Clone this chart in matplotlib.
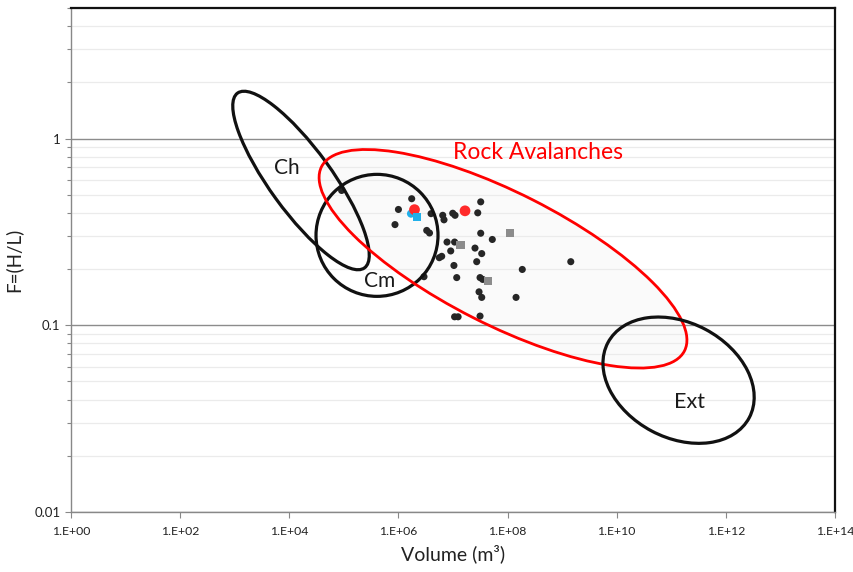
import matplotlib
matplotlib.use('Agg')
import matplotlib.pyplot as plt
from matplotlib.patches import Ellipse
from matplotlib.transforms import ScaledTranslation
from matplotlib.ticker import LogLocator, NullFormatter, FixedLocator, FixedFormatter

plt.rcParams['font.family'] = ['Lato', 'DejaVu Sans']

# data
vol_black = [9.1e4, 1.75e6, 1.0e6, 8.65e5, 3.96e6, 6.48e6, 6.84e6, 9.89e6, 1.09e7,
             3.22e7, 2.84e7, 3.30e6, 3.71e6, 3.22e7, 5.25e7, 7.77e6, 1.07e7, 2.53e7,
             9.08e6, 3.36e7, 5.61e6, 6.21e6, 2.72e7, 1.44e9, 1.04e7, 1.86e8, 2.94e6,
             1.17e7, 3.13e7, 3.50e7, 3.0e7, 3.36e7, 1.43e8, 1.07e7, 1.24e7, 3.13e7]
f_black = [0.527, 0.476, 0.417, 0.346, 0.396, 0.388, 0.367, 0.398, 0.388,
           0.458, 0.400, 0.322, 0.312, 0.311, 0.288, 0.279, 0.279, 0.259,
           0.250, 0.242, 0.230, 0.234, 0.219, 0.219, 0.209, 0.199, 0.182,
           0.180, 0.180, 0.176, 0.151, 0.141, 0.141, 0.111, 0.111, 0.112]

vol_red = [1.97e6, 1.66e7]
f_red = [0.416, 0.410]

vol_cyan_circle = [1.70e6]
f_cyan_circle = [0.396]
vol_cyan_square = [2.22e6]
f_cyan_square = [0.380]

vol_gray = [1.11e8, 1.37e7, 4.44e7]
f_gray = [0.312, 0.269, 0.172]

# outlined domains: name, centre volume, centre F, width/height (inches), angle, colour
zone_names = ['Ch', 'Cm', 'Rock Avalanches', 'Ext']
zone_vol = [1.64e4, 4.05e5, 8.25e7, 1.36e11]
zone_f = [0.596, 0.303, 0.227, 0.0508]
zone_w = [2.16, 1.22, 4.07, 1.60]
zone_h = [0.62, 1.22, 1.32, 1.15]
zone_angle = [-54, 0, -26.9, -28]
zone_color = ['#111111', '#111111', '#ff0000', '#111111']

label_vol = [9.1e3, 4.6e5, 3.6e8, 2.2e11]
label_f = [0.691, 0.172, 0.842, 0.0388]
label_size = [15, 15, 16.5, 15.5]

x_ticks = [1e0, 1e2, 1e4, 1e6, 1e8, 1e10, 1e12, 1e14]
x_tick_labels = ['1.E+00', '1.E+02', '1.E+04', '1.E+06', '1.E+08', '1.E+10', '1.E+12', '1.E+14']
y_ticks = [0.01, 0.1, 1]
y_tick_labels = ['0.01', '0.1', '1']

fig = plt.figure(figsize=(8.54, 5.72), dpi=100)
fig.patch.set_facecolor('white')
ax = fig.add_axes([71 / 854, 60 / 572, 764 / 854, 504 / 572])

ax.set_xscale('log')
ax.set_yscale('log')
ax.set_xlim(1e0, 1e14)
ax.set_ylim(0.01, 5)

# gridlines
ax.yaxis.set_major_locator(FixedLocator(y_ticks))
ax.yaxis.set_major_formatter(FixedFormatter(y_tick_labels))
ax.yaxis.set_minor_locator(LogLocator(base=10, subs=range(2, 10)))
ax.yaxis.set_minor_formatter(NullFormatter())
ax.grid(True, which='major', axis='y', color='#8c8c8c', linewidth=1.0, zorder=0)
ax.grid(True, which='minor', axis='y', color='#ebebeb', linewidth=0.9, zorder=0)
ax.set_axisbelow(True)

ax.xaxis.set_major_locator(FixedLocator(x_ticks))
ax.xaxis.set_major_formatter(FixedFormatter(x_tick_labels))
ax.xaxis.set_minor_locator(FixedLocator([]))

ax.tick_params(axis='both', which='major', labelsize=9.5, colors='#888888',
               labelcolor='#222222', length=4, width=0.8, direction='out')
ax.tick_params(axis='x', labelsize=8.8, pad=6)
ax.tick_params(axis='y', which='minor', colors='#888888', length=3, width=0.8)

for side in ['left', 'bottom']:
    ax.spines[side].set_color('#888888')
    ax.spines[side].set_linewidth(1.0)
for side in ['top', 'right']:
    ax.spines[side].set_color('#111111')
    ax.spines[side].set_linewidth(1.6)

# zones
for i, name in enumerate(zone_names):
    trans = fig.dpi_scale_trans + ScaledTranslation(zone_vol[i], zone_f[i], ax.transData)
    if name == 'Rock Avalanches':
        ax.add_patch(Ellipse((0, 0), zone_w[i], zone_h[i], angle=zone_angle[i],
                             transform=trans, facecolor='#000000', alpha=0.018,
                             edgecolor='none', zorder=0.5))
    ax.add_patch(Ellipse((0, 0), zone_w[i], zone_h[i], angle=zone_angle[i],
                         transform=trans, facecolor='none', edgecolor=zone_color[i],
                         linewidth=2.3 if zone_color[i] != '#ff0000' else 2.0, zorder=4))
    ax.text(label_vol[i], label_f[i], name, ha='center', va='center',
            fontsize=label_size[i],
            color=zone_color[i] if name == 'Rock Avalanches' else '#1a1a1a', zorder=6)

# data points
ax.scatter(vol_black, f_black, s=26, color='#262626', edgecolors='none', zorder=3)
ax.scatter(vol_gray, f_gray, s=34, marker='s', color='#8c8c8c', edgecolors='none', zorder=3.2)
ax.scatter(vol_cyan_circle, f_cyan_circle, s=34, color='#21b0ea', edgecolors='none', zorder=3.3)
ax.scatter(vol_red, f_red, s=60, color='#ff2a2a', edgecolors='none', zorder=3.4)
ax.scatter(vol_cyan_square, f_cyan_square, s=34, marker='s', color='#21b0ea',
           edgecolors='none', zorder=3.5)

ax.set_xlabel('Volume (m³)', fontsize=14, color='#222222', labelpad=5)
ax.set_ylabel('F=(H/L)', fontsize=13.5, color='#222222', labelpad=9)

fig.savefig('out.png', dpi=100, facecolor='white')
plt.close(fig)
